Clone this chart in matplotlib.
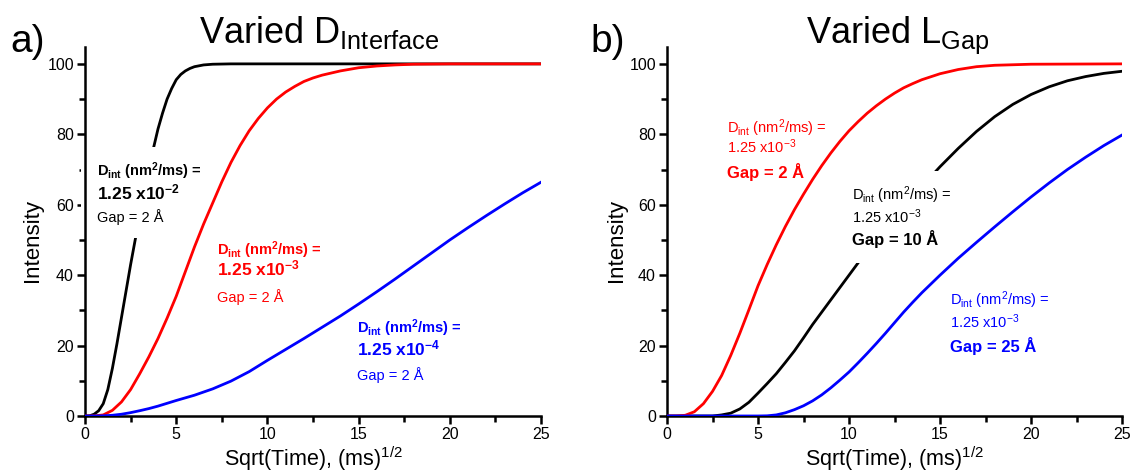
import matplotlib.pyplot as plt

plt.rcParams['font.family'] = ['Liberation Sans', 'DejaVu Sans']
plt.rcParams['mathtext.default'] = 'regular'

# values: x = sqrt(time), y = intensity
# panel a) varied D_interface
a_black_x = [0, 0.25, 0.5, 0.75, 1, 1.25, 1.5, 1.75, 2, 2.25, 2.5, 2.75, 3, 3.25, 3.5, 3.75, 4,
             4.25, 4.5, 4.75, 5, 5.25, 5.5, 5.75, 6, 6.5, 7, 8, 10, 25]
a_black_y = [0, 0.05, 0.5, 1.5, 3.5, 7.5, 13.5, 20.5, 28, 35.5, 43, 50, 57, 63.7, 70, 76, 81.5,
             86, 90, 93, 95.5, 97, 98, 98.7, 99.2, 99.7, 99.9, 100, 100, 100]
a_red_x = [0, 0.5, 1, 1.5, 2, 2.5, 3, 3.5, 4, 4.5, 5, 5.5, 6, 6.5, 7, 7.5, 8, 8.5, 9, 9.5, 10,
           10.5, 11, 11.5, 12, 12.5, 13, 14, 15, 16, 17, 18, 20, 25]
a_red_y = [0, 0.02, 0.3, 1.6, 4, 7.5, 12, 16.8, 22, 27.8, 34, 41, 48, 54.5, 60.5, 66.5, 72, 76.8,
           81, 84.5, 87.5, 90, 92, 93.6, 95, 96, 96.8, 98, 98.9, 99.4, 99.7, 99.9, 100, 100]
a_blue_x = [0, 0.5, 1, 1.5, 2, 2.5, 3, 3.5, 4, 4.5, 5, 6, 7, 8, 9, 10, 11, 12, 13, 14, 15,
            16, 17, 18, 19, 20, 21, 22, 23, 24, 25]
a_blue_y = [0, 0, 0.05, 0.2, 0.5, 0.95, 1.5, 2.1, 2.8, 3.6, 4.4, 5.9, 7.7, 9.9, 12.6, 15.8, 18.9,
            22, 25.2, 28.4, 31.8, 35.3, 38.9, 42.6, 46.3, 50, 53.5, 56.9, 60.2, 63.4, 66.4]

# panel b) varied L_gap
b_red_x = [0, 0.5, 1, 1.5, 2, 2.5, 3, 3.5, 4, 4.5, 5, 5.5, 6, 6.5, 7, 7.5, 8, 8.5, 9, 9.5, 10,
           10.5, 11, 11.5, 12, 12.5, 13, 13.5, 14, 15, 16, 17, 18, 20, 25]
b_red_y = [0, 0, 0.2, 1.2, 3.5, 7, 11.5, 17.2, 23.5, 30.2, 37, 43, 48.6, 53.8, 58.6, 63, 67.2,
           71.1, 74.7, 78, 81, 83.6, 86, 88.1, 90, 91.7, 93.2, 94.4, 95.5, 97.2, 98.4, 99.2,
           99.6, 99.9, 100]
b_black_x = [0, 2.5, 3, 3.5, 4, 4.5, 5, 5.5, 6, 6.5, 7, 7.5, 8, 8.5, 9, 9.5, 10, 10.5, 11, 12,
             13, 14, 15, 16, 17, 18, 19, 20, 21, 22, 23, 24, 25]
b_black_y = [0, 0, 0.3, 0.8, 2, 3.9, 6.5, 9.2, 12, 15.2, 18.5, 22.2, 26, 29.5, 33, 36.5, 40,
             43.5, 47, 53, 59.2, 65.2, 70.8, 76, 80.8, 85, 88.5, 91.3, 93.5, 95.2, 96.4, 97.3, 97.9]
b_blue_x = [0, 5, 5.5, 6, 6.5, 7, 7.5, 8, 8.5, 9, 9.5, 10, 10.5, 11, 11.5, 12, 12.5, 13, 13.5,
            14, 15, 16, 17, 18, 19, 20, 21, 22, 23, 24, 25]
b_blue_y = [0, 0, 0.05, 0.3, 0.9, 1.8, 2.9, 4.3, 6, 8, 10.2, 12.5, 15.1, 17.8, 20.6, 23.5, 26.5,
            29.5, 32.3, 35, 40, 44.8, 49.3, 53.7, 58, 62.2, 66.2, 70, 73.5, 76.8, 79.8]

fig = plt.figure(figsize=(11.35, 4.74), dpi=100)
ax1 = fig.add_axes([0.0749, 0.1224, 0.4018, 0.7785])
ax2 = fig.add_axes([0.5877, 0.1224, 0.4009, 0.7785])

for ax in (ax1, ax2):
    ax.set_xlim(0, 25)
    ax.set_ylim(0, 104.8)
    ax.spines['top'].set_visible(False)
    ax.spines['right'].set_visible(False)
    ax.spines['left'].set_linewidth(1.8)
    ax.spines['bottom'].set_linewidth(1.8)
    ax.set_xticks([0, 5, 10, 15, 20, 25])
    ax.set_xticks([2.5, 7.5, 12.5, 17.5, 22.5], minor=True)
    ax.set_yticks([0, 20, 40, 60, 80, 100])
    ax.set_yticks([10, 30, 50, 70, 90], minor=True)
    ax.tick_params(which='major', direction='out', length=6, width=1.8, labelsize=11.5, pad=2)
    ax.tick_params(which='minor', direction='out', length=4, width=1.8)
    ax.set_xlabel('Sqrt(Time), (ms)$^{1/2}$', fontsize=15.5)
    ax.set_ylabel('Intensity', fontsize=16)
    ax.xaxis.set_label_coords(0.5, -0.076)
ax1.yaxis.set_label_coords(-0.093, 0.475)
ax2.yaxis.set_label_coords(-0.087, 0.475)

lw = 2.0
ax1.plot(a_black_x, a_black_y, color='black', lw=lw, zorder=1.9)
ax1.plot(a_red_x, a_red_y, color='red', lw=lw, zorder=4)
ax1.plot(a_blue_x, a_blue_y, color='blue', lw=lw, zorder=4)
ax2.plot(b_black_x, b_black_y, color='black', lw=lw, zorder=1.9)
ax2.plot(b_red_x, b_red_y, color='red', lw=lw, zorder=4)
ax2.plot(b_blue_x, b_blue_y, color='blue', lw=lw, zorder=4)

line1 = 'D$_{int}$ (nm$^{2}$/ms) ='


def label_block(ax, x, ys, color, val, gap, bold_top, mask=False):
    w1 = 'bold' if bold_top else 'normal'
    w3 = 'normal' if bold_top else 'bold'
    lines = [(line1, 10.5, w1),
             ('1.25 x10$^{%s}$' % val, 12.5 if bold_top else 10.5, w1),
             ('Gap = %s Å' % gap, 10.5 if bold_top else 12, w3)]
    for (s, size, weight), y in zip(lines, ys):
        ax.text(x, y, s, fontsize=size, fontweight=weight, color=color,
                va='baseline', ha='left', zorder=3)
        if mask:
            # white patch hiding the curve behind the label, kept under the spines
            ax.text(x, y, s, fontsize=size, fontweight=weight, color='none',
                    va='baseline', ha='left', zorder=2.1,
                    bbox=dict(facecolor='white', edgecolor='none',
                              boxstyle='square,pad=0.9'))


label_block(ax1, 0.64, [68.2, 61.4, 55], 'black', '-2', '2', True, mask=True)
label_block(ax1, 7.25, [45.7, 39.8, 32.5], 'red', '-3', '2', True)
label_block(ax1, 14.93, [23.7, 17.3, 10.2], 'blue', '-4', '2', True)
label_block(ax2, 3.28, [80.5, 74.6, 67.5], 'red', '-3', '2', False)
label_block(ax2, 10.15, [61.4, 54.9, 48.6], 'black', '-3', '10', False, mask=True)
label_block(ax2, 15.55, [31.5, 24.9, 18.3], 'blue', '-3', '25', False)

fig.text(0.281, 1 - 43 / 474, 'Varied D$_{Interface}$', fontsize=26, ha='center', va='baseline')
fig.text(0.791, 1 - 43 / 474, 'Varied L$_{Gap}$', fontsize=26, ha='center', va='baseline')
fig.text(10 / 1135, 1 - 52 / 474, 'a)', fontsize=28, ha='left', va='baseline')
fig.text(590 / 1135, 1 - 52 / 474, 'b)', fontsize=28, ha='left', va='baseline')

fig.savefig('out.png', dpi=100)
